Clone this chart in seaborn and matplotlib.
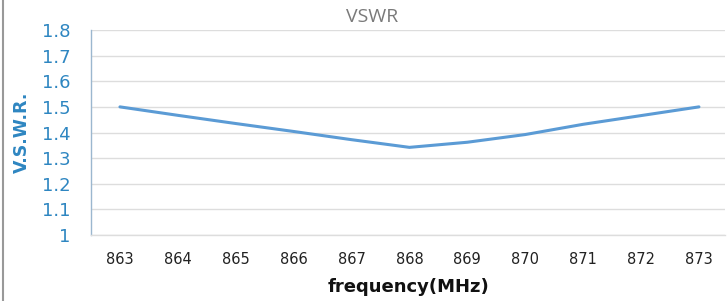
import matplotlib
matplotlib.use("Agg")
import matplotlib.pyplot as plt
import seaborn as sns
import pandas as pd
from matplotlib.lines import Line2D

frequency = [863, 864, 865, 866, 867, 868, 869, 870, 871, 872, 873]
vswr = [1.50, 1.467, 1.435, 1.404, 1.372, 1.342, 1.362, 1.392, 1.432, 1.466, 1.50]
yticks = [1, 1.1, 1.2, 1.3, 1.4, 1.5, 1.6, 1.7, 1.8]
ytick_labels = ["1", "1.1", "1.2", "1.3", "1.4", "1.5", "1.6", "1.7", "1.8"]

df = pd.DataFrame({"frequency": frequency, "vswr": vswr})

sns.set_theme(style="white")
plt.rcParams['font.family'] = ['DejaVu Sans']

fig = plt.figure(figsize=(7.28, 3.01), dpi=100)
ax = fig.add_axes([91/728, 1 - 235/301, (725-91)/728, (235-30)/301])

sns.lineplot(data=df, x="frequency", y="vswr", ax=ax, color="#5b9bd5", linewidth=2.2)

ax.set_xlim(862.5, 873.45)
ax.set_ylim(1, 1.8)
ax.set_yticks(yticks)
ax.set_yticklabels(ytick_labels)
ax.set_xticks(frequency)
ax.set_xticklabels([str(f) for f in frequency])
ax.yaxis.grid(True, color="#dddddd", linewidth=1)
ax.xaxis.grid(False)

for s in ["top", "right"]:
    ax.spines[s].set_visible(False)
ax.spines["left"].set_color("#9bb7cf")
ax.spines["left"].set_linewidth(1)
ax.spines["bottom"].set_color("#dddddd")
ax.spines["bottom"].set_linewidth(1)

ax.tick_params(axis="y", labelsize=13, labelcolor="#2e86c1", pad=15, length=0)
ax.tick_params(axis="x", labelsize=10.5, labelcolor="#222222", pad=12, length=0)

ax.set_xlabel("frequency(MHz)", fontsize=13, fontweight="bold", color="#111111", labelpad=8)
ax.set_ylabel("V.S.W.R.", fontsize=12.5, fontweight="bold", color="#2e86c1")
ax.yaxis.set_label_coords((31 - 91) / 634, 0.5)

fig.text(372/728, 1 - 17/301, "VSWR", ha="center", va="center", fontsize=14,
         color="#7a7a7a", family=["Open Sans", "DejaVu Sans"])

fig.add_artist(Line2D([2.5/728, 2.5/728], [0, 1], transform=fig.transFigure,
                      color="#999999", linewidth=1.5))

fig.savefig("out.png", dpi=100)
